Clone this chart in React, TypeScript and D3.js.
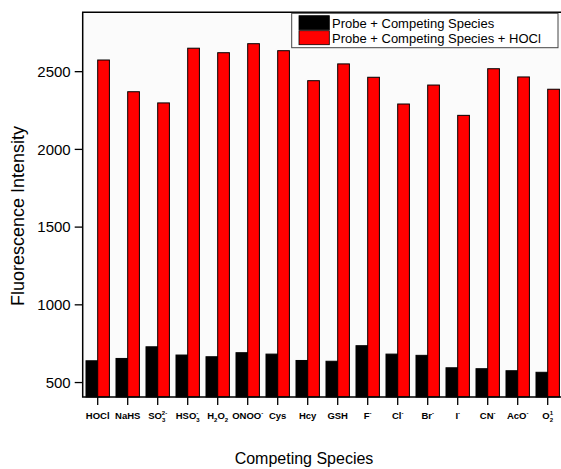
import React from "react";
import * as d3 from "d3";

const categories = ["HOCl", "NaHS", "SO3", "HSO3", "H2O2", "ONOO", "Cys", "Hcy", "GSH", "F", "Cl", "Br", "I", "CN", "AcO", "O2"];
const probeValues = [640, 655, 730, 677, 666, 692, 683, 642, 637, 737, 683, 675, 595, 589, 576, 566];
const hoclValues = [2575, 2371, 2299, 2651, 2622, 2680, 2635, 2442, 2550, 2464, 2292, 2414, 2219, 2519, 2466, 2387];
const seriesNames = ["Probe + Competing Species", "Probe + Competing Species + HOCl"];
const seriesColors = ["#000000", "#ff0000"];
const yTicks = [500, 1000, 1500, 2000, 2500];
const yDomain = [407, 2882];

// label segments: base text, subscript, superscript; "stack" puts sup above the preceding sub
type Seg = { t: string; k?: "sub" | "sup"; stack?: boolean };
const labelParts: Seg[][] = [
  [{ t: "HOCl" }],
  [{ t: "NaHS" }],
  [{ t: "SO" }, { t: "3", k: "sub" }, { t: "2-", k: "sup", stack: true }],
  [{ t: "HSO" }, { t: "3", k: "sub" }, { t: "-", k: "sup", stack: true }],
  [{ t: "H" }, { t: "2", k: "sub" }, { t: "O" }, { t: "2", k: "sub" }],
  [{ t: "ONOO" }, { t: "-", k: "sup" }],
  [{ t: "Cys" }],
  [{ t: "Hcy" }],
  [{ t: "GSH" }],
  [{ t: "F" }, { t: "-", k: "sup" }],
  [{ t: "Cl" }, { t: "-", k: "sup" }],
  [{ t: "Br" }, { t: "-", k: "sup" }],
  [{ t: "I" }, { t: "-", k: "sup" }],
  [{ t: "CN" }, { t: "-", k: "sup" }],
  [{ t: "AcO" }, { t: "-", k: "sup" }],
  [{ t: "O" }, { t: "2", k: "sub" }, { t: "1", k: "sup", stack: true }],
];

export default function App() {
  const W = 561, H = 469;
  const left = 82.7, top = 12.3, bottom = 397, right = 562.7;
  const x = d3.scaleBand<string>().domain(categories).range([left, right]).paddingInner(0.22).paddingOuter(0.11);
  const xs = d3.scaleBand<string>().domain(seriesNames).range([0, x.bandwidth()]).padding(0);
  const y = d3.scaleLinear().domain(yDomain).range([bottom, top]);
  const font = "Arial, 'Liberation Sans', sans-serif";
  const data = [probeValues, hoclValues];
  const labelY = 419;

  return (
    <svg width={W} height={H} style={{ position: "absolute", left: 0, top: 0 }} fontFamily={font}>
      <rect x={0} y={0} width={W} height={H} fill="#fff" />
      <rect x={left} y={top} width={right - left} height={bottom - top} fill="#fbfbfb" />
      {data.map((vals, si) =>
        vals.map((v, i) => (
          <rect
            key={`${si}-${i}`}
            x={(x(categories[i]) as number) + (xs(seriesNames[si]) as number)}
            y={y(v)}
            width={xs.bandwidth()}
            height={bottom - y(v)}
            fill={seriesColors[si]}
            stroke="#000"
            strokeWidth={1}
          />
        ))
      )}
      {/* frame */}
      <path d={`M${right},${top}H${left}V${bottom}H${right}`} fill="none" stroke="#000" strokeWidth={1.5} />
      {/* y ticks */}
      {yTicks.map((t) => (
        <g key={t}>
          <line x1={left - 8} x2={left} y1={y(t)} y2={y(t)} stroke="#000" strokeWidth={1.3} />
          <text x={left - 12} y={y(t)} dy="0.35em" textAnchor="end" fontSize={15} fill="#000">
            {t}
          </text>
        </g>
      ))}
      {/* x ticks */}
      {categories.map((c, i) => {
        const cx = (x(c) as number) + x.bandwidth() / 2;
        let prevSubLen = 0;
        let curOff = 0;
        return (
          <g key={c}>
            <line x1={cx} x2={cx} y1={bottom} y2={bottom + 8} stroke="#000" strokeWidth={1.3} />
            <text x={cx} y={labelY} textAnchor="middle" fontSize={9.5} fontWeight="bold" fill="#000">
              {labelParts[i].map((s, j) => {
                const target = !s.k ? 0 : s.k === "sub" ? 2.5 : -4.5;
                const dy = target - curOff;
                curOff = target;
                if (!s.k) {
                  prevSubLen = 0;
                  return (
                    <tspan key={j} dy={dy}>
                      {s.t}
                    </tspan>
                  );
                }
                const dx = s.stack ? -prevSubLen * 3.4 : 0;
                if (s.k === "sub") prevSubLen = s.t.length;
                return (
                  <tspan key={j} fontSize={6} dy={dy} dx={dx}>
                    {s.t}
                  </tspan>
                );
              })}
            </text>
          </g>
        );
      })}
      {/* axis titles */}
      <text x={304} y={464} textAnchor="middle" fontSize={16} fill="#000">Competing Species</text>
      <text transform="translate(24,216) rotate(-90)" textAnchor="middle" fontSize={18} fill="#000">Fluorescence Intensity</text>
      {/* legend */}
      <rect x={291.7} y={13.3} width={266.3} height={34.4} fill="#fff" stroke="#444" strokeWidth={1} />
      {seriesNames.map((s, i) => (
        <g key={s}>
          <rect x={299} y={15.7 + i * 15} width={30.3} height={14} fill={seriesColors[i]} stroke="#000" strokeWidth={0.8} />
          <text x={332} y={27.5 + i * 15} fontSize={13} fill="#000">{s}</text>
        </g>
      ))}
    </svg>
  );
}
